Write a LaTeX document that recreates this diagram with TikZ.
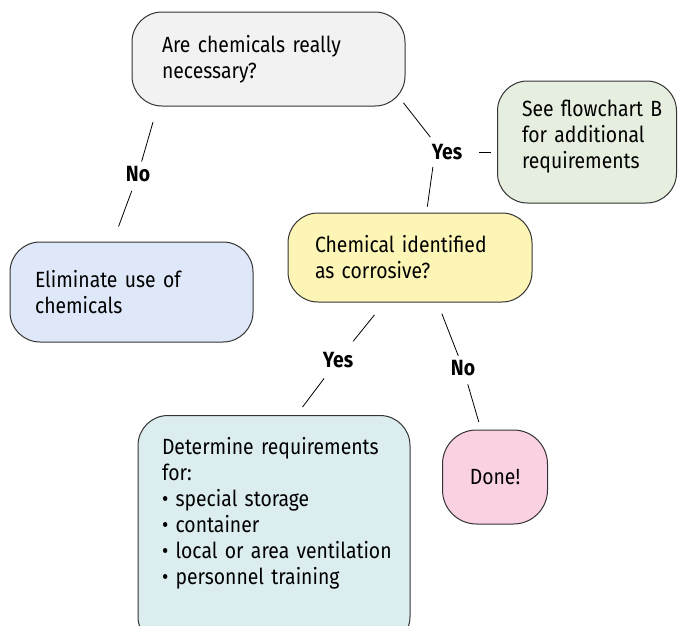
\documentclass[tikz,border=0pt]{standalone}
\usepackage{fontspec}
\setmainfont{Fira Sans}[FakeStretch=0.88]
\definecolor{askgray}{HTML}{F2F2F2}
\definecolor{seegreen}{HTML}{E6EEDF}
\definecolor{elimblue}{HTML}{DFE8F9}
\definecolor{corryellow}{HTML}{FDF5B5}
\definecolor{detteal}{HTML}{DCEDEF}
\definecolor{donepink}{HTML}{F9D1E3}

\begin{document}
\begin{tikzpicture}[x=1pt, y=-1pt,
	box/.style={draw=black!80, line width=1pt, rounded corners=30pt, align=left,
		inner xsep=0pt, inner ysep=0pt, font=\fontsize{22}{26}\selectfont},
	answer/.style={font=\bfseries\fontsize{22}{26}\selectfont, inner sep=0pt},
	link/.style={line width=0.8pt}]
	\useasboundingbox (0,0) rectangle (678,625);
	\clip (0,0) rectangle (678,625);

	% decision boxes
	\node[box, fill=askgray, text width=213pt, minimum width=273pt, minimum height=94pt] (q1) at (268.5,59) {Are chemicals really\\necessary?};
	\node[box, fill=seegreen, text width=154pt, minimum width=179pt, minimum height=122pt] (see) at (587,142) {\hspace*{12pt}See flowchart B\\\hspace*{12pt}for additional\\\hspace*{12pt}requirements\rule[-16pt]{0pt}{16pt}};
	\node[box, fill=elimblue, text width=193pt, minimum width=243pt, minimum height=100pt] (elim) at (131.5,292) {Eliminate use of\\chemicals};
	\node[box, fill=corryellow, text width=190pt, minimum width=244pt, minimum height=89pt] (corr) at (410,257.5) {Chemical identified\\as corrosive?};
	\node[box, fill=detteal, text width=240pt, minimum width=272pt, inner ysep=22pt, anchor=north] (det) at (274,415) {\hspace*{8pt}Determine requirements\\\hspace*{8pt}for:\\\hspace*{8pt}• special storage\\\hspace*{8pt}• container\\\hspace*{8pt}• local or area ventilation\\\hspace*{8pt}• personnel training\rule[-40pt]{0pt}{40pt}};
	\node[box, fill=donepink, align=center, minimum width=105pt, minimum height=94pt, rounded corners=34pt] (done) at (495,477) {Done!};

	% answers
	\node[answer] (no1) at (138,174) {No};
	\node[answer] (yes1) at (447,152) {Yes};
	\node[answer] (yes2) at (338,360) {Yes};
	\node[answer] (no2) at (463,368) {No};

	% connectors
	\draw[link, shorten <=16pt, shorten >=13pt] ([xshift=26pt]q1.south west) -- (no1.center);
	\draw[link, shorten <=18pt, shorten >=16pt] (no1.center) -- ([xshift=103.5pt]elim.north west);
	\draw[link, shorten <=8pt, shorten >=19pt] ([xshift=-7pt, yshift=10pt]q1.south east) -- ([xshift=-5pt]yes1.center);
	\draw[link, shorten <=32pt, shorten >=6pt] (yes1.center) -- (yes1 -| see.west);
	\draw[link, shorten <=15pt, shorten >=6pt] ([xshift=-12pt]yes1.center) -- ([xshift=139pt]corr.north west);
	\draw[link, shorten <=16pt, shorten >=24pt] ([xshift=97pt]corr.south west) -- (yes2.center);
	\draw[link, shorten <=23pt, shorten >=10pt] (yes2.center) -- ([xshift=159pt]det.north west);
	\draw[link, shorten <=12pt, shorten >=13pt] ([xshift=150pt]corr.south west) -- (no2.center);
	\draw[link, shorten <=17pt, shorten >=8pt] (no2.center) -- ([xshift=39pt]done.north west);
\end{tikzpicture}
\end{document}
